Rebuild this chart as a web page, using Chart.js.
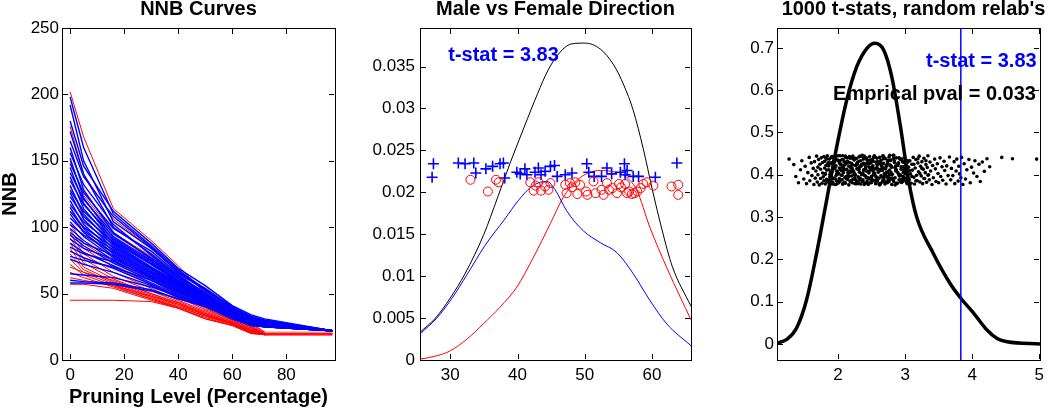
<!DOCTYPE html>
<html>
<head>
<meta charset="utf-8">
<script src="https://cdn.jsdelivr.net/npm/chart.js@4/dist/chart.umd.min.js"></script>
<style>
  body { margin: 0; background: #fff; }
  #wrap { position: relative; width: 1050px; height: 410px; }
  canvas { position: absolute; top: 0; }
</style>
</head>
<body>
<div id="wrap">
  <canvas id="nnbChart" width="345" height="410" style="left:0px"></canvas>
  <canvas id="dirChart" width="350" height="410" style="left:350px"></canvas>
  <canvas id="permChart" width="350" height="410" style="left:700px"></canvas>
</div>
<script>
// ---------- Panel 1: NNB curves ----------
const pruneX = [0, 5, 16, 30, 40, 50, 60, 67, 72, 97];
const p1XTicks = [0, 20, 40, 60, 80];
const p1YTicks = [0, 50, 100, 150, 200, 250];
const p1YLabels = ["0", "50", "100", "150", "200", "250"];

const blueNNB = [
  [198, 160, 110, 86, 68, 53, 40, 33, 30, 22],
  [192, 150, 104, 84, 67, 52, 39, 32, 29, 22],
  [180, 146, 112, 88, 69, 56, 41, 34, 31, 22],
  [172, 140, 100, 80, 64, 50, 38, 31, 28, 22],
  [165, 138, 108, 85, 66, 54, 40, 32, 30, 22],
  [160, 128, 96, 76, 62, 49, 37, 31, 28, 22],
  [156, 132, 102, 79, 63, 51, 38, 31, 29, 22],
  [152, 122, 92, 74, 60, 48, 36, 30, 27, 22],
  [148, 126, 99, 82, 65, 53, 39, 32, 29, 22],
  [145, 118, 90, 72, 59, 48, 36, 30, 27, 22],
  [141, 121, 95, 77, 63, 50, 37, 31, 28, 22],
  [138, 114, 88, 70, 58, 47, 35, 29, 27, 22],
  [135, 117, 93, 75, 61, 49, 37, 30, 28, 22],
  [131, 110, 86, 69, 57, 47, 35, 29, 27, 22],
  [128, 112, 91, 73, 60, 49, 36, 30, 28, 22],
  [126, 106, 84, 68, 56, 46, 35, 29, 26, 22],
  [123, 108, 89, 72, 59, 48, 36, 30, 27, 22],
  [120, 102, 82, 66, 55, 46, 34, 29, 26, 22],
  [117, 104, 87, 70, 58, 48, 36, 30, 27, 22],
  [115, 99, 80, 65, 54, 45, 34, 28, 26, 22],
  [112, 100, 85, 69, 57, 47, 35, 29, 27, 22],
  [110, 96, 78, 63, 53, 45, 34, 28, 26, 22],
  [107, 97, 83, 67, 56, 46, 35, 29, 27, 22],
  [104, 93, 77, 62, 52, 44, 33, 28, 26, 22],
  [102, 94, 81, 66, 55, 46, 35, 29, 27, 22],
  [99, 90, 75, 61, 51, 44, 33, 28, 26, 22],
  [96, 88, 79, 64, 54, 45, 34, 29, 26, 22],
  [94, 86, 73, 60, 50, 43, 33, 27, 25, 22],
  [91, 84, 76, 63, 53, 45, 34, 28, 26, 22],
  [88, 81, 71, 58, 49, 43, 32, 27, 25, 22],
  [85, 80, 74, 62, 52, 44, 33, 28, 26, 22],
  [82, 77, 69, 57, 48, 42, 32, 27, 25, 22],
  [78, 75, 70, 60, 51, 44, 33, 28, 26, 22],
  [76, 72, 66, 56, 47, 41, 32, 27, 25, 22],
  [65, 64, 62, 55, 48, 42, 32, 27, 25, 22],
  [60, 59, 58, 53, 46, 41, 31, 26, 25, 22],
  [58, 58, 57, 52, 46, 40, 31, 26, 25, 22]
];

const redNNB = [
  [202, 168, 114, 90, 71, 50, 36, 28, 21, 21],
  [176, 140, 106, 84, 66, 47, 34, 27, 21, 21],
  [150, 124, 96, 78, 62, 44, 33, 26, 20, 20],
  [132, 108, 88, 70, 57, 41, 32, 25, 20, 20],
  [115, 96, 80, 64, 52, 40, 31, 25, 19, 19],
  [102, 88, 74, 60, 49, 39, 30, 24, 20, 20],
  [98, 84, 70, 57, 47, 38, 30, 24, 19, 19],
  [95, 80, 66, 54, 45, 37, 29, 23, 20, 20],
  [92, 76, 63, 52, 44, 36, 29, 23, 19, 19],
  [88, 73, 61, 50, 43, 35, 28, 22, 20, 20],
  [84, 70, 59, 49, 42, 34, 28, 22, 19, 19],
  [80, 68, 58, 48, 41, 34, 27, 21, 20, 20],
  [76, 66, 57, 47, 40, 33, 27, 21, 19, 19],
  [72, 64, 56, 46, 40, 33, 27, 21, 20, 20],
  [70, 66, 60, 50, 43, 35, 28, 22, 19, 19],
  [66, 62, 55, 46, 39, 32, 26, 20, 20, 20],
  [62, 60, 56, 48, 42, 34, 28, 22, 19, 19],
  [57, 57, 54, 45, 39, 31, 26, 20, 19, 19],
  [45, 45, 45, 44, 39, 31, 26, 20, 19, 19]
];

// ---------- Panel 2: Male vs Female direction ----------
const p2XTicks = [30, 40, 50, 60];
const p2YTicks = [0, 0.005, 0.01, 0.015, 0.02, 0.025, 0.03, 0.035];
const p2YLabels = ["0", "0.005", "0.01", "0.015", "0.02", "0.025", "0.03", "0.035"];

const allKdeX = [25.5, 27.8, 30.0, 32.2, 35.0, 37.0, 39.0, 41.0, 43.0, 44.5, 46.0, 48.0, 50.0, 52.3, 54.3, 55.8, 57.2, 58.7, 60.0, 61.5, 63.0, 65.8];
const allKdeY = [0.0033, 0.0050, 0.0074, 0.0103, 0.0150, 0.0193, 0.0237, 0.0278, 0.0318, 0.0345, 0.0364, 0.0377, 0.0378, 0.0371, 0.0352, 0.0328, 0.0298, 0.0252, 0.0205, 0.0155, 0.0112, 0.0064];

const maleKdeX = [25.5, 28.0, 30.2, 32.5, 35.2, 38.1, 40.1, 42.1, 43.4, 44.4, 45.6, 47.3, 49.8, 52.3, 54.8, 57.2, 59.7, 62.2, 65.8];
const maleKdeY = [0.0031, 0.0050, 0.0073, 0.0102, 0.0137, 0.0168, 0.0190, 0.0207, 0.0212, 0.0213, 0.0203, 0.0178, 0.0154, 0.0140, 0.0128, 0.0103, 0.0071, 0.0043, 0.0017];

const femaleKdeX = [25.5, 28.0, 30.0, 32.5, 34.9, 37.4, 39.9, 42.4, 44.9, 46.8, 48.8, 50.5, 52.3, 54.0, 55.7, 57.7, 59.7, 62.2, 64.2, 65.8];
const femaleKdeY = [0.0001, 0.0005, 0.0011, 0.0025, 0.0043, 0.0063, 0.0087, 0.0123, 0.0163, 0.0194, 0.0214, 0.0223, 0.0226, 0.0225, 0.0221, 0.0203, 0.0158, 0.0110, 0.0075, 0.0048];

const maleX = [27.5, 27.3, 31.2, 32.2, 33.5, 33.8, 35.3, 36.3, 37.4, 37.9, 38.1, 39.9, 40.4, 41.1, 41.4, 42.6, 43.1, 43.5, 44.1,
  44.9, 45.5, 45.9, 47.1, 48.1, 50.3, 50.6, 51.4, 52.5, 53.3, 54.0, 55.3, 55.9, 56.0, 56.3, 57.2, 58.0, 60.5, 63.7];
const maleY = [0.0234, 0.0218, 0.0235, 0.0234, 0.0235, 0.0223, 0.0228, 0.0231, 0.0234, 0.0235, 0.0217, 0.0224, 0.0222, 0.0228, 0.0221, 0.0224, 0.0229, 0.0221, 0.0225,
  0.0231, 0.0232, 0.0219, 0.0221, 0.0223, 0.0234, 0.0224, 0.0219, 0.0219, 0.0229, 0.0222, 0.0224, 0.0234, 0.0221, 0.0226, 0.0219, 0.0219, 0.0218, 0.0235];

const femaleX = [33.0, 35.6, 36.8, 37.2, 41.9, 42.4, 42.7, 43.1, 43.5, 44.1, 44.6, 44.9, 47.1, 47.3, 47.8, 48.1, 48.6, 48.9, 49.3, 50.2, 50.4, 51.3,
  51.6, 52.5, 52.8, 53.3, 53.6, 54.1, 54.8, 55.1, 55.4, 56.0, 56.3, 56.6, 57.0, 57.4, 57.8, 58.3, 58.7, 59.2, 60.2, 62.9, 63.9, 63.9];
const femaleY = [0.0215, 0.0201, 0.0215, 0.0212, 0.0212, 0.0202, 0.0208, 0.0212, 0.0202, 0.0207, 0.0203, 0.0211, 0.0209, 0.0199, 0.0211, 0.0206, 0.0212, 0.0198, 0.0209, 0.0201, 0.0197, 0.0213,
  0.0199, 0.0203, 0.0197, 0.0211, 0.0203, 0.0205, 0.0199, 0.0210, 0.0206, 0.0210, 0.0199, 0.0201, 0.0198, 0.0199, 0.0201, 0.0205, 0.0210, 0.0212, 0.0208, 0.0207, 0.0209, 0.0197];

const tStat = 3.83;
const empiricalP = 0.033;

// ---------- Panel 3: 1000 t-stats from random relabelings ----------
const p3XTicks = [2, 3, 4, 5];
const p3YTicks = [0, 0.1, 0.2, 0.3, 0.4, 0.5, 0.6, 0.7];
const p3YLabels = ["0", "0.1", "0.2", "0.3", "0.4", "0.5", "0.6", "0.7"];

const nullKdeX = [1.09, 1.23, 1.38, 1.53, 1.68, 1.83, 1.98, 2.13, 2.28, 2.43, 2.55, 2.68, 2.80, 2.93, 3.05, 3.17, 3.42, 3.67, 3.83, 4.02, 4.22, 4.37, 4.52, 5.01];
const nullKdeY = [0.002, 0.010, 0.037, 0.104, 0.214, 0.340, 0.466, 0.577, 0.656, 0.699, 0.711, 0.695, 0.632, 0.514, 0.388, 0.301, 0.214, 0.143, 0.108, 0.073, 0.033, 0.013, 0.005, 0.0];

const permX = [
  1.27,1.34,1.37,1.41,1.44,1.46,1.49,1.51,1.53,1.55,1.57,1.58,1.60,1.61,1.63,1.64,
  1.65,1.66,1.67,1.68,1.69,1.70,1.70,1.71,1.72,1.73,1.74,1.74,1.75,1.76,1.77,1.77,1.78,1.79,1.79,1.80,1.80,1.81,1.81,1.82,1.82,1.83,1.83,1.84,1.84,1.85,
  1.86,1.87,1.87,1.88,1.89,1.89,1.90,1.91,1.91,1.92,1.93,1.93,1.94,1.95,1.95,1.96,1.97,1.97,1.98,1.99,
  2.00,2.00,2.01,2.02,2.02,2.03,2.04,2.04,2.05,2.06,2.06,2.07,2.08,2.08,2.09,2.10,2.10,2.11,2.12,2.12,
  2.13,2.14,2.14,2.15,2.16,2.16,2.17,2.18,2.18,2.19,2.20,2.20,2.21,2.22,2.22,2.23,2.24,2.24,2.25,2.26,
  2.26,2.27,2.28,2.28,2.29,2.30,2.30,2.31,2.32,2.32,2.33,2.34,2.34,2.35,2.36,2.36,2.37,2.38,2.38,2.39,
  2.40,2.40,2.41,2.42,2.42,2.43,2.44,2.44,2.45,2.46,2.46,2.47,2.48,2.48,2.49,2.50,2.50,2.51,2.52,2.52,
  2.53,2.54,2.54,2.55,2.56,2.56,2.57,2.58,2.58,2.59,2.60,2.60,2.61,2.62,2.62,2.63,2.64,2.64,2.65,2.66,
  2.66,2.67,2.68,2.68,2.69,2.70,2.70,2.71,2.72,2.72,2.73,2.74,2.74,2.75,2.76,2.76,2.77,2.78,2.78,2.79,
  2.80,2.80,2.81,2.82,2.83,2.84,2.85,2.86,2.87,2.88,2.89,2.90,2.91,2.92,2.93,2.94,2.95,2.96,2.97,2.98,
  2.99,3.00,3.01,3.02,3.03,3.04,
  1.88,1.90,1.92,1.94,1.96,1.98,2.01,2.03,2.05,2.07,2.09,2.11,2.13,2.15,2.17,2.19,2.21,2.23,2.25,2.27,
  2.29,2.31,2.33,2.35,2.37,2.39,2.41,2.43,2.45,2.47,2.49,2.51,2.53,2.55,2.57,2.59,2.61,2.63,2.65,2.67,
  2.69,2.71,2.73,2.75,2.77,2.79,2.81,2.83,2.85,2.87,2.89,2.91,2.93,2.95,2.97,2.99,3.01,3.03,
  1.81,1.83,1.85,1.86,1.88,1.90,1.91,1.93,1.95,1.96,1.98,2.00,2.02,2.03,2.05,2.07,2.08,2.10,2.12,2.14,
  2.15,2.17,2.19,2.20,2.22,2.24,2.26,2.27,2.29,2.31,2.32,2.34,2.36,2.38,2.39,2.41,2.43,2.44,2.46,2.48,
  2.50,2.51,2.53,2.55,2.56,2.58,2.60,2.62,2.63,2.65,2.67,2.68,2.70,2.72,2.74,2.75,2.77,2.79,2.80,2.82,
  2.84,2.86,2.87,2.89,2.91,2.92,2.94,2.96,2.98,3.00,
  1.84,1.86,1.89,1.90,1.92,1.95,1.97,1.99,2.01,2.04,2.06,2.07,2.09,2.11,2.13,2.16,2.18,2.19,2.21,2.23,
  2.25,2.28,2.30,2.31,2.33,2.35,2.37,2.40,2.42,2.43,2.45,2.47,2.49,2.52,2.54,2.55,2.57,2.59,2.61,2.64,
  2.66,2.67,2.69,2.71,2.73,2.76,2.78,2.79,2.81,2.83,2.85,2.88,2.90,2.91,2.93,2.95,2.97,3.00,3.02,3.04,
  3.07,3.10,3.13,3.16,3.19,3.22,3.25,3.28,3.31,3.34,2.02,2.14,2.26,2.38,2.50,2.62,2.74,2.86,1.94,2.98,
  3.05,3.06,3.07,3.08,3.09,3.10,3.11,3.12,3.13,3.14,3.15,3.16,3.17,3.18,3.19,3.20,3.21,3.22,3.23,3.24,
  3.25,3.26,3.27,3.28,3.29,3.30,3.31,3.32,3.33,3.34,3.35,3.36,3.37,3.38,3.40,3.41,3.42,3.44,3.45,3.46,
  3.48,3.49,3.50,3.52,3.53,3.55,3.56,3.58,3.59,3.61,3.62,3.64,
  3.66,3.68,3.69,3.71,3.73,3.74,3.76,3.77,3.79,3.80,3.81,3.83,3.84,3.86,3.88,3.90,3.92,3.95,3.97,3.99,
  4.02,4.04,4.07,4.10,4.12,4.15,4.18,4.22,4.26,
  4.44,4.60,4.96
];
const permY = [
  .437,.424,.396,.381,.412,.433,.390,.420,.379,.405,.441,.386,.428,.398,.415,.377,
  .431,.392,.409,.444,.383,.418,.400,.436,.376,.425,.391,.413,.440,.380,.404,.429,.395,.443,.386,.416,.432,.378,.401,.422,.439,.389,.411,.445,.384,.427,
  .412,.388,.437,.401,.379,.426,.394,.443,.407,.383,.419,.431,.392,.377,.415,.440,.398,.421,.385,.409,
  .434,.380,.403,.428,.391,.445,.411,.387,.423,.399,.436,.378,.417,.405,.430,.393,.382,.425,.441,.396,
  .413,.389,.432,.402,.376,.420,.408,.439,.384,.416,.427,.397,.381,.444,.410,.390,.435,.404,.379,.422,
  .400,.438,.386,.414,.429,.395,.383,.442,.406,.418,.391,.433,.378,.424,.402,.446,.388,.411,.437,.399,
  .380,.426,.415,.393,.440,.384,.408,.431,.377,.419,.404,.443,.390,.412,.428,.396,.382,.436,.409,.421,
  .387,.445,.400,.414,.379,.430,.394,.417,.439,.385,.406,.425,.392,.441,.376,.413,.434,.398,.420,.383,
  .410,.444,.389,.427,.403,.378,.416,.438,.395,.422,.381,.407,.432,.397,.386,.442,.411,.423,.391,.435,
  .377,.418,.401,.446,.384,.429,.393,.414,.440,.380,.405,.426,.388,.437,.399,.419,.382,.431,.396,.412,
  .442,.387,.424,.403,.379,.433,
  .395,.428,.381,.417,.440,.402,.386,.433,.410,.378,.422,.444,.391,.406,.429,.384,.415,.438,.399,.380,
  .425,.411,.389,.443,.404,.377,.419,.436,.393,.427,.382,.413,.441,.400,.387,.431,.408,.379,.423,.445,
  .396,.414,.385,.434,.402,.420,.390,.439,.376,.411,.426,.398,.383,.437,.405,.418,.392,.430,
  .403,.437,.385,.421,.396,.441,.378,.414,.430,.390,.408,.445,.383,.426,.399,.417,.436,.381,.412,.428,
  .394,.443,.406,.387,.423,.401,.439,.379,.415,.432,.392,.420,.384,.411,.444,.397,.425,.380,.407,.435,
  .389,.418,.401,.442,.386,.424,.410,.377,.431,.395,.416,.438,.382,.405,.427,.391,.446,.400,.419,.388,
  .433,.409,.379,.422,.440,.397,.413,.384,.429,.402,
  .383,.429,.406,.441,.391,.418,.377,.435,.402,.424,.388,.445,.412,.380,.431,.397,.420,.386,.439,.408,
  .393,.427,.379,.414,.444,.400,.385,.423,.409,.436,.390,.417,.381,.432,.404,.442,.395,.413,.378,.426,
  .411,.387,.440,.399,.421,.384,.434,.405,.392,.446,.416,.380,.428,.401,.437,.389,.419,.407,.382,.430,
  .410,.396,.425,.386,.438,.403,.415,.391,.433,.399,.416,.440,.388,.427,.396,.412,.382,.421,.435,.392,
  .418,.389,.433,.402,.380,.425,.411,.441,.394,.378,.416,.436,.399,.386,.428,.407,.444,.383,.420,.397,
  .431,.379,.413,.439,.391,.405,.424,.382,.417,.445,.400,.388,.430,.409,.377,.422,.393,.437,.414,.384,
  .426,.403,.381,.440,.396,.419,.387,.432,.410,.378,.421,.398,
  .442,.388,.415,.398,.431,.379,.409,.437,.385,.420,.402,.393,.441,.377,.426,.390,.412,.436,.381,.418,
  .404,.433,.396,.425,.384,.430,.408,.438,.419,
  .441,.438,.437
];

Chart.defaults.font.family = '"Liberation Sans", Arial, Helvetica, sans-serif';
Chart.defaults.color = '#000';

function toPoints(xs, ys) {
  return xs.map((v, i) => ({x: v, y: ys[i]}));
}

// inward tick marks on all four sides + title and text notes
const matlabFrame = {
  id: 'matlabFrame',
  afterDraw(chart, args, opts) {
    const ctx = chart.ctx;
    const a = chart.chartArea;
    const xs = chart.scales.x, ys = chart.scales.y;
    const L = Math.round(a.left), R = Math.round(a.right) - 1;
    const T = Math.round(a.top), B = Math.round(a.bottom) - 1;
    ctx.save();
    ctx.strokeStyle = '#000000';
    ctx.lineWidth = 1;
    ctx.beginPath();
    xs.ticks.forEach(t => {
      let px = Math.round(xs.getPixelForValue(t.value)) + 0.5;
      ctx.moveTo(px, B); ctx.lineTo(px, B - 5);
      ctx.moveTo(px, T); ctx.lineTo(px, T + 6);
    });
    ys.ticks.forEach(t => {
      let py = Math.round(ys.getPixelForValue(t.value)) + 0.5;
      ctx.moveTo(L, py); ctx.lineTo(L + 6, py);
      ctx.moveTo(R, py); ctx.lineTo(R - 5, py);
    });
    ctx.stroke();

    ctx.fillStyle = '#000000';
    ctx.font = 'bold 20px "Liberation Sans", Arial, sans-serif';
    ctx.textBaseline = 'middle';
    ctx.textAlign = 'center';
    ctx.fillText(opts.title, (a.left + a.right) / 2 + (opts.titleShift || 0), 9);
    (opts.notes || []).forEach(n => {
      ctx.fillStyle = n.color;
      ctx.textAlign = n.align;
      ctx.fillText(n.text, xs.getPixelForValue(n.x), ys.getPixelForValue(n.y));
    });
    ctx.restore();
  }
};

function buildOptions(cfg) {
  const frameBorder = { display: true, color: '#000000', width: 1 };
  return {
    responsive: false,
    animation: false,
    events: [],
    layout: { padding: { left: 0, right: cfg.padRight, top: 28, bottom: 0 } },
    plugins: {
      legend: { display: false },
      tooltip: { enabled: false },
      matlabFrame: cfg.text
    },
    scales: {
      x: {
        type: 'linear',
        min: cfg.xMin,
        max: cfg.xMax,
        grid: { display: false, drawTicks: false },
        border: frameBorder,
        ticks: { font: { size: 17 }, padding: 5, maxRotation: 0 },
        title: cfg.xTitle || { display: false },
        afterBuildTicks: (s) => { s.ticks = cfg.xTicks.map(v => ({value: v})); },
        afterFit: (s) => { s.height = 50; s.paddingLeft = 0; s.paddingRight = 0; }
      },
      y: {
        type: 'linear',
        min: cfg.yMin,
        max: cfg.yMax,
        grid: { display: false, drawTicks: false },
        border: frameBorder,
        ticks: { font: { size: 17 }, padding: cfg.yPad, callback: (v, i) => cfg.yLabels[i] },
        title: cfg.yTitle || { display: false },
        afterBuildTicks: (s) => { s.ticks = cfg.yTicks.map(v => ({value: v})); },
        afterFit: (s) => { s.width = cfg.yWidth; s.paddingTop = 0; s.paddingBottom = 0; }
      },
      // top and right axes only close the box
      xTop: {
        type: 'linear', position: 'top', min: cfg.xMin, max: cfg.xMax,
        grid: { display: false, drawTicks: false }, border: frameBorder, ticks: { display: false },
        afterFit: (s) => { s.height = 0; s.paddingLeft = 0; s.paddingRight = 0; }
      },
      yRight: {
        type: 'linear', position: 'right', min: cfg.yMin, max: cfg.yMax,
        grid: { display: false, drawTicks: false }, border: frameBorder, ticks: { display: false },
        afterFit: (s) => { s.width = 0; s.paddingTop = 0; s.paddingBottom = 0; }
      }
    }
  };
}

// ### PANEL 1 ###
// the flat tails of the red curves come out pale in the original
const redTail = (c) => c.p0.parsed.x >= 72 ? 'rgba(255,0,0,0.35)' : '#ff0000';
let nnbSets = [];
blueNNB.forEach(ys => {
  nnbSets.push({ data: toPoints(pruneX, ys), borderColor: '#0000ff', borderWidth: 1.4, pointRadius: 0, showLine: true });
});
redNNB.forEach(ys => {
  nnbSets.push({ data: toPoints(pruneX, ys), borderColor: '#ff0000', borderWidth: 1, pointRadius: 0, showLine: true, segment: { borderColor: redTail } });
});

new Chart(document.querySelector('#nnbChart'), {
  type: 'scatter',
  data: { datasets: nnbSets },
  options: buildOptions({
    padRight: 10, yWidth: 62, yPad: 3,
    xMin: -3, xMax: 98, yMin: 0, yMax: 250,
    xTicks: p1XTicks, yTicks: p1YTicks, yLabels: p1YLabels,
    xTitle: { display: true, text: 'Pruning Level (Percentage)', font: { size: 20, weight: 'bold', lineHeight: 1 }, padding: { top: 0, bottom: 3 } },
    yTitle: { display: true, text: 'NNB', font: { size: 20, weight: 'bold', lineHeight: 1 }, padding: { top: 0, bottom: 0 } },
    text: { title: 'NNB Curves' }
  }),
  plugins: [matlabFrame]
});

// ### PANEL 2 ###
new Chart(document.querySelector('#dirChart'), {
  type: 'scatter',
  data: {
    datasets: [
      { data: toPoints(femaleX, femaleY), pointStyle: 'circle', pointRadius: 4.5, borderColor: '#ff0000', backgroundColor: 'rgba(0,0,0,0)', pointBorderWidth: 1 },
      { data: toPoints(maleX, maleY), pointStyle: 'cross', pointRadius: 5.5, borderColor: '#0000ff', pointBorderWidth: 1.6 },
      { data: toPoints(allKdeX, allKdeY), borderColor: '#000000', borderWidth: 1, pointRadius: 0, showLine: true, cubicInterpolationMode: 'monotone' },
      { data: toPoints(maleKdeX, maleKdeY), borderColor: '#0000ff', borderWidth: 1, pointRadius: 0, showLine: true, cubicInterpolationMode: 'monotone' },
      { data: toPoints(femaleKdeX, femaleKdeY), borderColor: '#ff0000', borderWidth: 1, pointRadius: 0, showLine: true, cubicInterpolationMode: 'monotone' }
    ]
  },
  options: buildOptions({
    padRight: 9, yWidth: 70, yPad: 5,
    xMin: 25.5, xMax: 65.8, yMin: 0, yMax: 0.0396,
    xTicks: p2XTicks, yTicks: p2YTicks, yLabels: p2YLabels,
    text: {
      title: 'Male vs Female Direction',
      notes: [{ text: 't-stat = ' + tStat.toFixed(2), x: 29.7, y: 0.0363, color: '#0000ff', align: 'left' }]
    }
  }),
  plugins: [matlabFrame]
});

// ### PANEL 3 ###
new Chart(document.querySelector('#permChart'), {
  type: 'scatter',
  data: {
    datasets: [
      { data: [{x: tStat, y: -0.05}, {x: tStat, y: 0.8}], borderColor: '#0000ff', borderWidth: 1.5, pointRadius: 0, showLine: true },
      { data: toPoints(nullKdeX, nullKdeY), borderColor: '#000000', borderWidth: 3.5, pointRadius: 0, showLine: true, cubicInterpolationMode: 'monotone' },
      { data: toPoints(permX, permY), pointRadius: 1.8, backgroundColor: '#000000', borderWidth: 0, pointBorderWidth: 0 }
    ]
  },
  options: buildOptions({
    padRight: 10, yWidth: 77, yPad: 3,
    xMin: 1.09, xMax: 5.01, yMin: -0.038, yMax: 0.747,
    xTicks: p3XTicks, yTicks: p3YTicks, yLabels: p3YLabels,
    text: {
      title: "1000 t-stats, random relab's",
      titleShift: 5,
      notes: [
        { text: 't-stat = ' + tStat.toFixed(2), x: 4.96, y: 0.667, color: '#0000ff', align: 'right' },
        { text: 'Emprical pval = ' + empiricalP, x: 4.95, y: 0.589, color: '#000000', align: 'right' }
      ]
    }
  }),
  plugins: [matlabFrame]
});
</script>
</body>
</html>
